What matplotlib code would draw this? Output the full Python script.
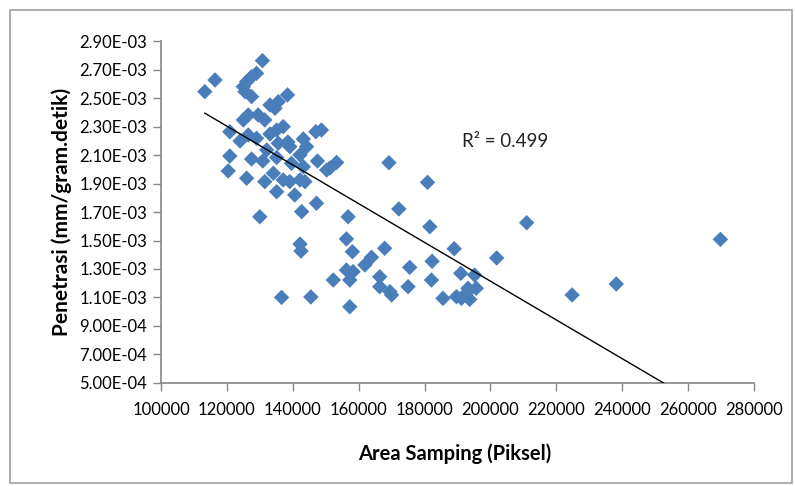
import numpy as np
import matplotlib
matplotlib.use("Agg")
import matplotlib.pyplot as plt
from matplotlib.ticker import FuncFormatter, MultipleLocator
from matplotlib.patches import Rectangle

plt.rcParams['font.family'] = ['Lato', 'DejaVu Sans']

# side area (pixels) vs penetration (mm/gram.second)
area = np.array([
    113300, 116400, 130800, 129000, 127500, 126000, 125000, 125500, 127500, 138400,
    135600, 133100, 134600, 126500, 129500, 125000, 131500, 137100, 135100, 120900,
    124000, 129000, 133100, 138500, 139100, 143200, 147000, 148700, 144200, 132100,
    135100, 120900, 127500, 130900, 147500, 153300, 139600, 120400, 142200, 143200,
    150300, 126000, 131500, 134100, 137100, 139100, 142200, 143700, 135100, 140600,
    147200, 142700, 130000, 156800, 151300, 169200, 180900, 172200, 211000, 181600,
    156300, 158100, 167900, 189000, 201900, 163900, 161900, 182300, 175500, 156300,
    158300, 152300, 157300, 166400, 166400, 169500, 170000, 175000, 182100, 191000,
    195200, 185600, 189700, 191200, 192700, 193700, 195700, 193200, 157300, 269800,
    238200, 224800, 136600, 145500, 142200, 142500, 126500, 135600,
])
penetrasi = np.array([
    2.547, 2.629, 2.765, 2.676, 2.652, 2.617, 2.582, 2.547, 2.512, 2.524,
    2.476, 2.453, 2.430, 2.383, 2.383, 2.348, 2.348, 2.301, 2.277, 2.265,
    2.200, 2.219, 2.249, 2.193, 2.160, 2.214, 2.265, 2.277, 2.160, 2.137,
    2.084, 2.094, 2.073, 2.059, 2.059, 2.049, 2.043, 1.989, 2.102, 2.019,
    1.996, 1.938, 1.914, 1.973, 1.926, 1.914, 1.926, 1.914, 1.843, 1.820,
    1.762, 1.703, 1.667, 1.667, 2.010, 2.047, 1.909, 1.722, 1.625, 1.597,
    1.511, 1.421, 1.445, 1.442, 1.377, 1.382, 1.328, 1.354, 1.311, 1.292,
    1.281, 1.222, 1.222, 1.245, 1.175, 1.140, 1.117, 1.175, 1.222, 1.269,
    1.257, 1.093, 1.105, 1.093, 1.129, 1.086, 1.164, 1.164, 1.034, 1.508,
    1.194, 1.117, 1.100, 1.103, 1.475, 1.426, 2.242, 2.184,
]) * 1e-3

# linear trendline as drawn on the chart (Excel fit), R² as printed
trend_slope = -1.363e-8
trend_intercept = 3.940e-3
r2_label = "R² = 0.499"

y_ticks = [5.0e-4, 7.0e-4, 9.0e-4, 1.1e-3, 1.3e-3, 1.5e-3, 1.7e-3,
           1.9e-3, 2.1e-3, 2.3e-3, 2.5e-3, 2.7e-3, 2.9e-3]

fig = plt.figure(figsize=(7.95, 4.86), dpi=100)
ax = fig.add_axes([0.2025, 0.2126, 0.7459, 0.7021])

ax.scatter(area, penetrasi, marker='D', s=62, color='#4A7EBB', edgecolors='none', zorder=3)

xs = np.array([area.min(), area.max()])
ax.plot(xs, trend_slope * xs + trend_intercept, color='black', lw=1.0, zorder=4)

ax.text(191300, 2.193e-3, r2_label, fontsize=13.5, ha='left', va='center', color='#222222')

ax.set_xlim(100000, 280000)
ax.set_ylim(5.0e-4, 2.9e-3)
ax.xaxis.set_major_locator(MultipleLocator(20000))
ax.set_yticks(y_ticks)
ax.yaxis.set_major_formatter(FuncFormatter(lambda v, p: f"{v:.2E}"))
ax.xaxis.set_major_formatter(FuncFormatter(lambda v, p: f"{v:.0f}"))

ax.set_xlabel("Area Samping (Piksel)", fontsize=14.5, fontweight='bold')
ax.set_ylabel("Penetrasi (mm/gram.detik)", fontsize=15, fontweight='bold')
ax.xaxis.set_label_coords(0.495, -0.178)
ax.yaxis.set_label_coords(-0.150, 0.5)

ax.tick_params(axis='both', labelsize=12, color='#868686', length=6, width=1, pad=4)
ax.tick_params(axis='x', pad=8)
for side in ['top', 'right']:
    ax.spines[side].set_visible(False)
for side in ['left', 'bottom']:
    ax.spines[side].set_color('#868686')
    ax.spines[side].set_linewidth(1.2)

# chart frame
fig.patches.append(Rectangle((0.0126, 0.006), 0.984, 0.973, transform=fig.transFigure,
                             fill=False, edgecolor='#a0a0a0', lw=1.2))

fig.savefig("out.png", dpi=100)
